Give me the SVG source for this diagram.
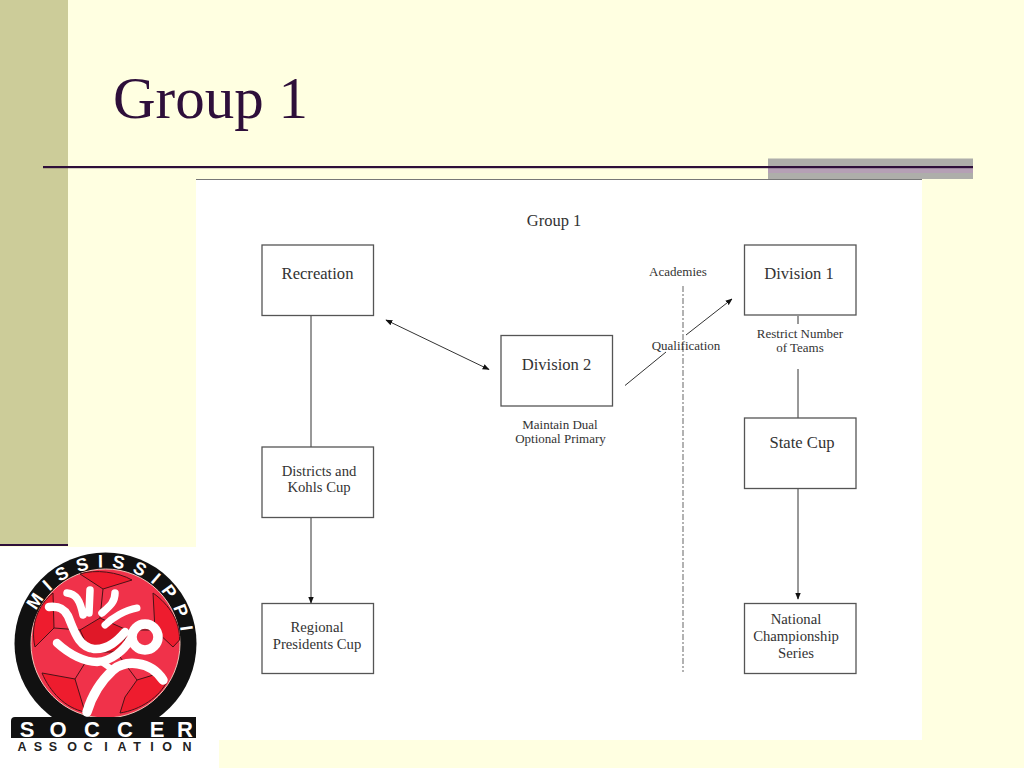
<svg xmlns="http://www.w3.org/2000/svg" width="1024" height="768" viewBox="0 0 1024 768">
<style>
.t{font-family:"Liberation Serif","Times New Roman",serif;fill:#333;text-anchor:middle}
.b{fill:#fff;stroke:#555;stroke-width:1.3}
.c{stroke:#333;stroke-width:1;fill:none}
.s{font-size:13px}.m{font-size:14.7px}.l{font-size:16.6px}
.w{fill:none;stroke:#fff;stroke-linecap:round;stroke-linejoin:round}
.k{fill:none;stroke:#4a1216;stroke-width:1}
.p{fill:#ee1c2e;stroke:#4a1216;stroke-width:1}
.g{font-family:"Liberation Sans",Arial,sans-serif;font-weight:700}
</style>
<defs>
<marker id="a" viewBox="0 0 10 8" refX="9" refY="4" markerWidth="7" markerHeight="6" orient="auto-start-reverse" markerUnits="userSpaceOnUse"><path d="M0 0L10 4L0 8Z" fill="#111"/></marker>
<path id="ring" d="M29.500 643.500A76 76 0 0 1 181.500 643.500"/>
</defs>
<rect width="1024" height="768" fill="#ffffe1"/>
<rect width="68" height="545" fill="#cccc99"/>
<rect x="0" y="544" width="68" height="2" fill="#2e0f3a"/>
<rect x="768" y="158.500" width="205" height="20.500" fill="#aeaeaa"/>
<rect x="768" y="168" width="205" height="5" fill="#b5a0b5"/>
<rect x="43" y="166" width="930" height="2.200" fill="#2e0f3a"/>
<text x="113" y="118" font-family="Liberation Serif,serif" font-size="59" fill="#2e0f3a">Group 1</text>

<rect x="196" y="180" width="726" height="560" fill="#fff"/>
<rect x="196" y="179" width="726" height="1" fill="#777"/>
<rect x="0" y="547" width="219" height="221" fill="#fff"/>

<g id="logo">
<circle cx="105.500" cy="643.500" r="91" fill="#111"/>
<circle cx="105.500" cy="643.500" r="74.500" fill="#f0324a" stroke="#f2c4b8" stroke-width="1"/>
<path class="p" d="M80 574L103 589L132 580C118 572 95 569 80 574Z"/>
<path class="p" d="M153 593L155 630L173 647L179.500 640C180 622 170 605 153 593Z"/>
<path class="p" d="M53 593L54 628L35 647C30 625 38 605 53 593Z"/>
<path class="p" d="M42 673L75 679L85 712C65 708 50 692 42 673Z"/>
<path class="p" d="M120 713L125 697L137 680L160 673L167 681C160 697 140 710 120 713Z"/>
<path d="M80 630L100 618L127 630L122 652L90 652Z" fill="#e01828" stroke="#4a1216"/>
<path class="k" d="M103 589L100 618M54 628L80 630M127 630L155 630M75 679L85 663L100 663M137 680L120 657"/>
<path class="w" stroke-width="8.500" d="M49 607C58 606 64 608 68 616C74 630 78 647 94 649C108 650 118 640 125 632"/>
<path class="w" stroke-width="7.500" d="M67 593C76 594 80 600 83 615M90 590L89 613M115 593C115 602 110 606 102 613"/>
<path class="w" stroke-width="7" d="M137 608C125 610 112 618 105 625"/>
<path class="w" stroke-width="8.500" d="M57 643C70 655 85 662 97 662C112 661 124 650 130 640"/>
<circle cx="145" cy="637" r="13" fill="none" stroke="#fff" stroke-width="9.500"/>
<path class="w" stroke-width="9.500" d="M87 712C92 695 102 680 113 670C125 660 150 660 163 680"/>
<path class="w" stroke-width="6" d="M103 663L113 670"/>
<text class="g" font-size="18" fill="#fff" letter-spacing="8.600"><textPath href="#ring" startOffset="134" text-anchor="middle">MISSISSIPPI</textPath></text>
<path d="M11 738V721Q11 717 15 717H196V738Z" fill="#111"/>
<text class="g" y="736.500" text-anchor="middle" font-size="22" fill="#fff" x="27 58 92 125 157 185">SOCCER</text>
<text class="g" y="750.500" text-anchor="middle" font-size="12.500" fill="#222" x="22 38 53 72 88 106 122 137 152 167 187">ASSOCIATION</text>
</g>

<text class="t" font-size="16.500" x="554" y="225.500">Group 1</text>

<g id="connectors">
<path class="c" d="M311 316V447"/>
<path class="c" d="M311 518V603" marker-end="url(#a)"/>
<path class="c" d="M386 320L489 369.500" marker-start="url(#a)" marker-end="url(#a)"/>
<path class="c" d="M625 385.500L666 352"/>
<path class="c" d="M686 335L732 299" marker-end="url(#a)"/>
<path d="M683 286V672" fill="none" stroke="#999" stroke-width="1.500" stroke-dasharray="6 2 2 2"/>
<path class="c" d="M798 316V324"/>
<path class="c" d="M798 369V418"/>
<path class="c" d="M798 489V599" marker-end="url(#a)"/>
</g>

<g id="recreation"><rect class="b" x="262" y="245" width="111.500" height="70.500"/><text class="t l" x="317.500" y="279">Recreation</text></g>
<g id="districts"><rect class="b" x="262" y="447" width="111.500" height="70.500"/><text class="t m" x="319" y="475.500">Districts and</text><text class="t m" x="319" y="492">Kohls Cup</text></g>
<g id="regional"><rect class="b" x="262" y="603.500" width="111.500" height="70"/><text class="t m" x="317" y="632">Regional</text><text class="t m" x="317" y="648.500">Presidents Cup</text></g>
<g id="division2"><rect class="b" x="501" y="335.500" width="111.500" height="70.500"/><text class="t l" x="556.500" y="370">Division 2</text><text class="t s" x="560" y="429">Maintain Dual</text><text class="t s" x="560.500" y="443">Optional Primary</text></g>
<g id="academies"><text class="t s" x="678" y="276">Academies</text></g>
<g id="qualification"><text class="t s" x="686" y="350">Qualification</text></g>
<g id="division1"><rect class="b" x="744.500" y="245" width="111.500" height="70"/><text class="t l" x="799" y="279">Division 1</text><text class="t s" x="800" y="338">Restrict Number</text><text class="t s" x="800" y="352">of Teams</text></g>
<g id="statecup"><rect class="b" x="744.500" y="418" width="111.500" height="70.500"/><text class="t l" x="802" y="448">State Cup</text></g>
<g id="national"><rect class="b" x="744.500" y="603.500" width="111.500" height="70"/><text class="t m" x="796" y="623.500">National</text><text class="t m" x="796" y="640.500">Championship</text><text class="t m" x="796" y="657.500">Series</text></g>
</svg>
